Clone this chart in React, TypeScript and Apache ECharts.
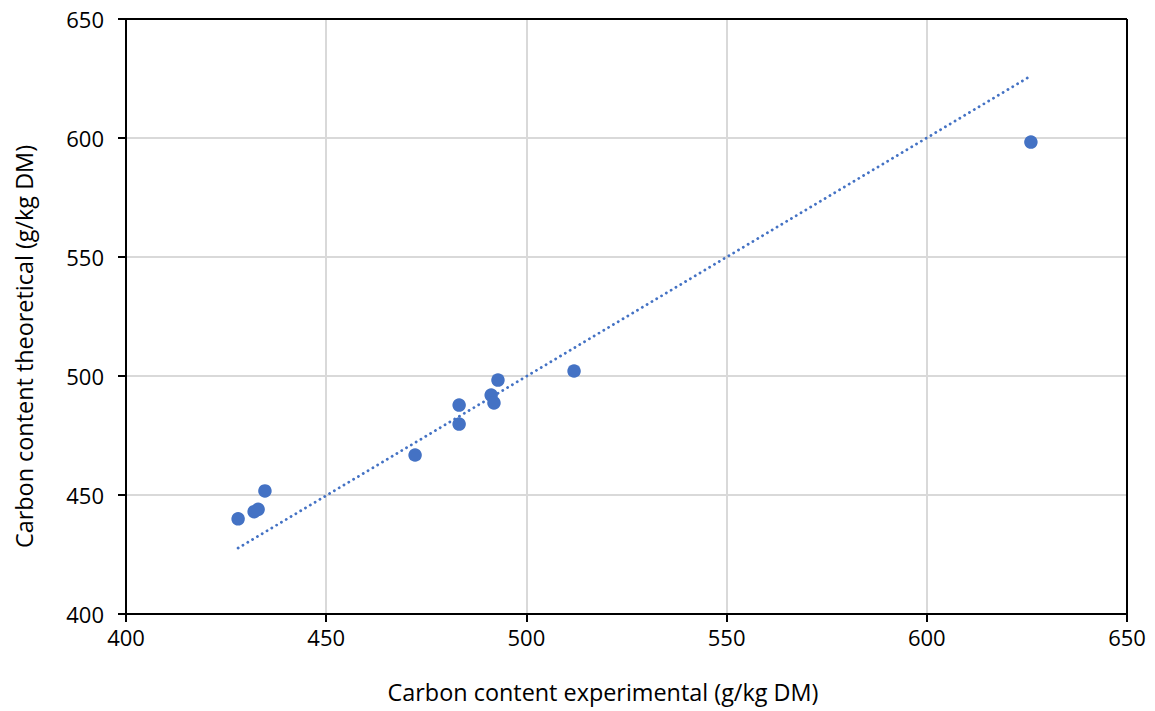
import React, { useEffect, useRef } from "react";
import * as echarts from "echarts";

const experimental = [428, 432, 433, 434.7, 472.2, 483.2, 483.2, 491.2, 491.9, 492.9, 511.9, 626];
const theoretical = [440, 443, 444, 451.7, 466.8, 487.8, 479.8, 492, 488.7, 498.3, 502.1, 598.3];
const trendX = [428, 625.5];
const trendY = [427.7, 625.6];
const xTitle = "Carbon content experimental (g/kg DM)";
const yTitle = "Carbon content theoretical (g/kg DM)";

export default function App() {
  const ref = useRef<HTMLDivElement>(null);
  useEffect(() => {
    const chart = echarts.init(ref.current!, null, { renderer: "svg" });
    const font = "Open Sans";
    chart.setOption({
      animation: false,
      grid: { left: 126, right: 28, top: 19, bottom: 97, containLabel: false, outerBoundsMode: "none" },
      xAxis: {
        type: "value",
        min: 400,
        max: 650,
        interval: 50,
        name: xTitle,
        nameLocation: "middle",
        nameGap: 66,
        nameTextStyle: { fontFamily: font, fontSize: 23.4, color: "#000", padding: [0, 47, 0, 0] },
        axisLine: { show: true, onZero: false, lineStyle: { color: "#000", width: 2 } },
        axisTick: { show: true, length: 8, lineStyle: { color: "#000", width: 2 } },
        axisLabel: { fontFamily: font, fontSize: 22, color: "#000", margin: 12 },
        splitLine: { show: true, lineStyle: { color: "#d9d9d9", width: 2 } },
      },
      yAxis: {
        type: "value",
        min: 400,
        max: 650,
        interval: 50,
        name: yTitle,
        nameLocation: "middle",
        nameGap: 91,
        nameTextStyle: { fontFamily: font, fontSize: 23.4, color: "#000", padding: [0, 60, 0, 0] },
        axisLine: { show: true, onZero: false, lineStyle: { color: "#000", width: 2 } },
        axisTick: { show: true, length: 8, lineStyle: { color: "#000", width: 2 } },
        axisLabel: { fontFamily: font, fontSize: 22, color: "#000", margin: 22 },
        splitLine: { show: true, lineStyle: { color: "#d9d9d9", width: 2 } },
      },
      series: [
        {
          type: "line",
          data: trendX.map((x, i) => [x, trendY[i]]),
          symbol: "none",
          lineStyle: { color: "#4472C4", width: 2.8, type: [0.1, 5.5], cap: "round" },
          z: 2,
        },
        {
          type: "scatter",
          data: experimental.map((x, i) => [x, theoretical[i]]),
          symbolSize: 13.5,
          itemStyle: { color: "#4472C4", opacity: 1 },
          z: 3,
        },
      ],
      graphic: [
        {
          type: "line",
          shape: { x1: 126, y1: 19, x2: 1127, y2: 19 },
          style: { stroke: "#000", lineWidth: 2 },
          z: 10,
        },
        {
          type: "line",
          shape: { x1: 1127, y1: 19, x2: 1127, y2: 614 },
          style: { stroke: "#000", lineWidth: 2 },
          z: 10,
        },
      ],
    });
    return () => chart.dispose();
  }, []);
  return (
    <div
      ref={ref}
      style={{ position: "absolute", left: 0, top: 0, width: 1155, height: 711 }}
    />
  );
}
